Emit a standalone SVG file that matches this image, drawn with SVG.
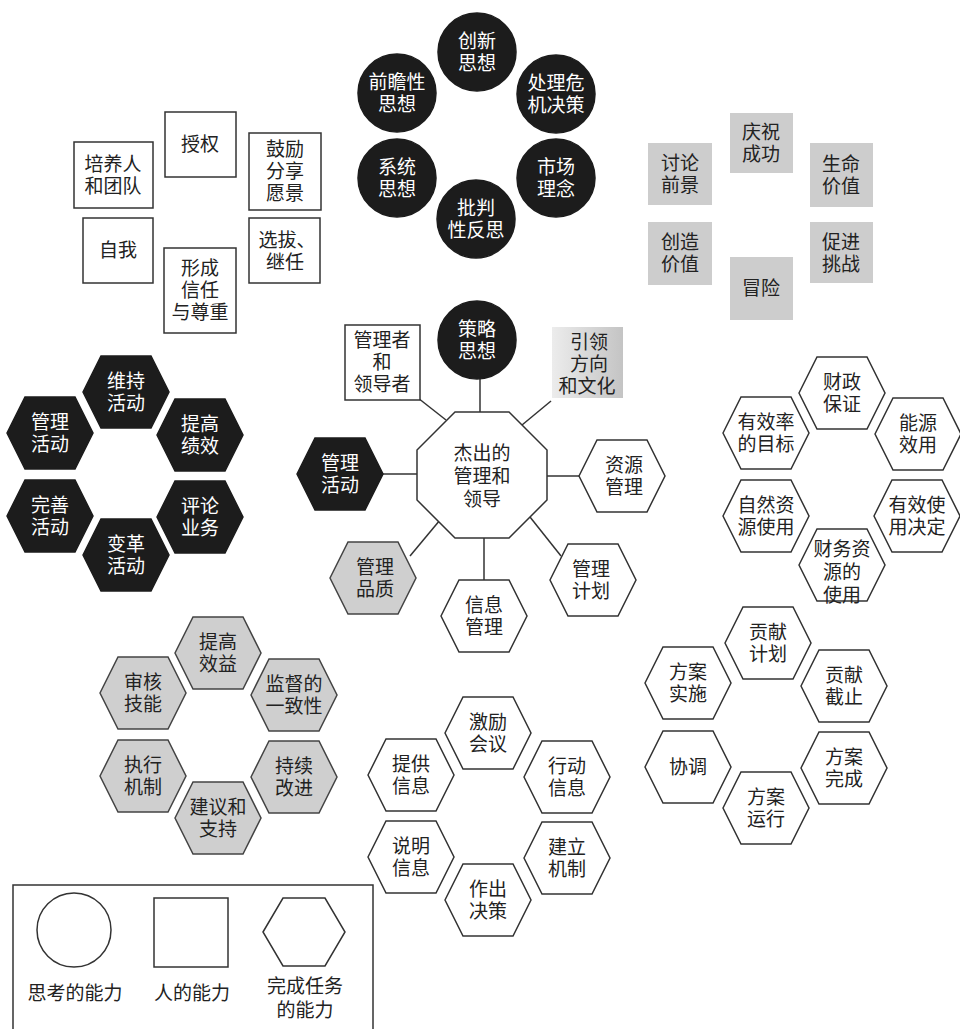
<svg xmlns="http://www.w3.org/2000/svg" xmlns:xlink="http://www.w3.org/1999/xlink" width="960" height="1029" viewBox="0 0 960 1029">
<style>
text{font-family:"Liberation Serif","Noto Sans CJK SC",serif;font-size:19px;text-anchor:middle;dominant-baseline:central;fill:#222}
.lt{fill:#fff}
.dark{fill:#1c1c1c;stroke:#1c1c1c;stroke-width:1.5}
.wh{fill:#fff;stroke:#333;stroke-width:1.5}
.gr{fill:#cfcfcf;stroke:#444;stroke-width:1.5}
.gb{fill:#cdcdcd;stroke:none}
.ln{stroke:#333;stroke-width:1.5;fill:none}
</style>
<defs>
<polygon id="hex" points="-43,0 -25,-36 25,-36 43,0 25,36 -25,36"/>
<linearGradient id="gg" x1="0" y1="0" x2="1" y2="0"><stop offset="0" stop-color="#ececec"/><stop offset="1" stop-color="#c4c4c4"/></linearGradient>
</defs>
<rect width="960" height="1029" fill="#fff"/>

<!-- connectors -->
<g id="connectors">
<line class="ln" x1="480" y1="378" x2="480" y2="412"/>
<line class="ln" x1="418" y1="398" x2="446" y2="420"/>
<line class="ln" x1="551" y1="401" x2="522" y2="425"/>
<line class="ln" x1="383" y1="474" x2="417" y2="474"/>
<line class="ln" x1="547" y1="476" x2="579" y2="476"/>
<line class="ln" x1="440" y1="520" x2="410" y2="556"/>
<line class="ln" x1="484" y1="538" x2="484" y2="580"/>
<line class="ln" x1="530" y1="517" x2="561" y2="556"/>
</g>

<!-- thinking circles -->
<g id="n-chuangxin"><circle class="dark" cx="477" cy="52" r="39"/><text class="lt"><tspan x="477" y="41">创新</tspan><tspan x="477" y="63">思想</tspan></text></g>
<g id="n-qianzhan"><circle class="dark" cx="397" cy="93" r="39"/><text class="lt"><tspan x="397" y="82">前瞻性</tspan><tspan x="397" y="104">思想</tspan></text></g>
<g id="n-weiji"><circle class="dark" cx="556" cy="94" r="39"/><text class="lt"><tspan x="556" y="83">处理危</tspan><tspan x="556" y="105">机决策</tspan></text></g>
<g id="n-xitong"><circle class="dark" cx="397" cy="178" r="39"/><text class="lt"><tspan x="397" y="167">系统</tspan><tspan x="397" y="189">思想</tspan></text></g>
<g id="n-shichang"><circle class="dark" cx="556" cy="178" r="39"/><text class="lt"><tspan x="556" y="167">市场</tspan><tspan x="556" y="189">理念</tspan></text></g>
<g id="n-pipan"><circle class="dark" cx="476" cy="219" r="39"/><text class="lt"><tspan x="476" y="208">批判</tspan><tspan x="476" y="230">性反思</tspan></text></g>

<!-- people squares -->
<g id="n-shouquan"><rect class="wh" x="165" y="112" width="71" height="65"/><text x="200" y="144">授权</text></g>
<g id="n-peiyang"><rect class="wh" x="74" y="142" width="79" height="66"/><text><tspan x="113" y="164">培养人</tspan><tspan x="113" y="186">和团队</tspan></text></g>
<g id="n-guli"><rect class="wh" x="249" y="133" width="72" height="77"/><text><tspan x="285" y="149">鼓励</tspan><tspan x="285" y="171">分享</tspan><tspan x="285" y="193">愿景</tspan></text></g>
<g id="n-ziwo"><rect class="wh" x="83" y="218" width="70" height="65"/><text x="118" y="250">自我</text></g>
<g id="n-xuanba"><rect class="wh" x="249" y="218" width="71" height="65"/><text><tspan x="287" y="240">选拔、</tspan><tspan x="285" y="262">继任</tspan></text></g>
<g id="n-xinren"><rect class="wh" x="164" y="248" width="72" height="85"/><text><tspan x="200" y="268">形成</tspan><tspan x="200" y="290">信任</tspan><tspan x="200" y="312">与尊重</tspan></text></g>

<!-- gray squares -->
<g id="n-qingzhu"><rect class="gb" x="730" y="113" width="63" height="60"/><text><tspan x="761" y="132">庆祝</tspan><tspan x="761" y="154">成功</tspan></text></g>
<g id="n-taolun"><rect class="gb" x="648" y="143" width="64" height="62"/><text><tspan x="680" y="163">讨论</tspan><tspan x="680" y="185">前景</tspan></text></g>
<g id="n-shengming"><rect class="gb" x="810" y="143" width="63" height="64"/><text><tspan x="841" y="164">生命</tspan><tspan x="841" y="186">价值</tspan></text></g>
<g id="n-chuangzao"><rect class="gb" x="648" y="222" width="64" height="63"/><text><tspan x="680" y="242">创造</tspan><tspan x="680" y="264">价值</tspan></text></g>
<g id="n-cujin"><rect class="gb" x="810" y="222" width="63" height="61"/><text><tspan x="841" y="242">促进</tspan><tspan x="841" y="264">挑战</tspan></text></g>
<g id="n-maoxian"><rect class="gb" x="730" y="257" width="63" height="63"/><text x="761" y="288">冒险</text></g>

<!-- dark hexes -->
<g id="n-weichi"><use xlink:href="#hex" href="#hex" class="dark" x="126" y="392"/><text class="lt"><tspan x="126" y="381">维持</tspan><tspan x="126" y="403">活动</tspan></text></g>
<g id="n-guanli1"><use xlink:href="#hex" href="#hex" class="dark" x="50" y="433"/><text class="lt"><tspan x="50" y="422">管理</tspan><tspan x="50" y="444">活动</tspan></text></g>
<g id="n-tigao"><use xlink:href="#hex" href="#hex" class="dark" x="200" y="435"/><text class="lt"><tspan x="200" y="424">提高</tspan><tspan x="200" y="446">绩效</tspan></text></g>
<g id="n-wanshan"><use xlink:href="#hex" href="#hex" class="dark" x="50" y="516"/><text class="lt"><tspan x="50" y="505">完善</tspan><tspan x="50" y="527">活动</tspan></text></g>
<g id="n-pinglun"><use xlink:href="#hex" href="#hex" class="dark" x="200" y="517"/><text class="lt"><tspan x="200" y="506">评论</tspan><tspan x="200" y="528">业务</tspan></text></g>
<g id="n-biange"><use xlink:href="#hex" href="#hex" class="dark" x="126" y="555"/><text class="lt"><tspan x="126" y="544">变革</tspan><tspan x="126" y="566">活动</tspan></text></g>

<!-- center cluster -->
<g id="n-center"><polygon class="wh" points="455,412 509,412 547,450 547,500 509,538 455,538 417,500 417,450"/><text><tspan x="482" y="453">杰出的</tspan><tspan x="482" y="476">管理和</tspan><tspan x="482" y="499">领导</tspan></text></g>
<g id="n-celue"><circle class="dark" cx="477" cy="340" r="39"/><text class="lt"><tspan x="477" y="329">策略</tspan><tspan x="477" y="351">思想</tspan></text></g>
<g id="n-guanlizhe"><rect class="wh" x="345" y="325" width="75" height="75"/><text><tspan x="382" y="340">管理者</tspan><tspan x="382" y="362">和</tspan><tspan x="382" y="384">领导者</tspan></text></g>
<g id="n-yinling"><rect x="552" y="327" width="71" height="71" fill="url(#gg)"/><text><tspan x="589" y="342">引领</tspan><tspan x="589" y="364">方向</tspan><tspan x="587" y="386">和文化</tspan></text></g>
<g id="n-guanli2"><use xlink:href="#hex" href="#hex" class="dark" x="340" y="474"/><text class="lt"><tspan x="340" y="463">管理</tspan><tspan x="340" y="485">活动</tspan></text></g>
<g id="n-ziyuan"><use xlink:href="#hex" href="#hex" class="wh" x="622" y="476"/><text><tspan x="624" y="465">资源</tspan><tspan x="624" y="487">管理</tspan></text></g>
<g id="n-pinzhi"><use xlink:href="#hex" href="#hex" class="gr" x="373" y="578"/><text><tspan x="375" y="567">管理</tspan><tspan x="375" y="589">品质</tspan></text></g>
<g id="n-xinxi"><use xlink:href="#hex" href="#hex" class="wh" x="484" y="616"/><text><tspan x="484" y="605">信息</tspan><tspan x="484" y="627">管理</tspan></text></g>
<g id="n-jihua"><use xlink:href="#hex" href="#hex" class="wh" x="593" y="580"/><text><tspan x="591" y="569">管理</tspan><tspan x="591" y="591">计划</tspan></text></g>

<!-- right hex cluster -->
<g id="n-caizheng"><use xlink:href="#hex" href="#hex" class="wh" x="842" y="393"/><text><tspan x="842" y="382">财政</tspan><tspan x="842" y="404">保证</tspan></text></g>
<g id="n-xiaolv"><use xlink:href="#hex" href="#hex" class="wh" x="766" y="433"/><text><tspan x="766" y="422">有效率</tspan><tspan x="766" y="444">的目标</tspan></text></g>
<g id="n-nengyuan"><use xlink:href="#hex" href="#hex" class="wh" x="918" y="434"/><text><tspan x="918" y="423">能源</tspan><tspan x="918" y="445">效用</tspan></text></g>
<g id="n-ziran"><use xlink:href="#hex" href="#hex" class="wh" x="766" y="516"/><text><tspan x="766" y="505">自然资</tspan><tspan x="766" y="527">源使用</tspan></text></g>
<g id="n-juedin"><use xlink:href="#hex" href="#hex" class="wh" x="917" y="516"/><text><tspan x="917" y="505">有效使</tspan><tspan x="917" y="527">用决定</tspan></text></g>
<g id="n-caiwu"><use xlink:href="#hex" href="#hex" class="wh" x="842" y="565"/><text><tspan x="842" y="549">财务资</tspan><tspan x="842" y="572">源的</tspan><tspan x="842" y="595">使用</tspan></text></g>

<!-- gray hex cluster -->
<g id="n-xiaoyi"><use xlink:href="#hex" href="#hex" class="gr" x="218" y="653"/><text><tspan x="218" y="642">提高</tspan><tspan x="218" y="664">效益</tspan></text></g>
<g id="n-shenhe"><use xlink:href="#hex" href="#hex" class="gr" x="143" y="693"/><text><tspan x="143" y="682">审核</tspan><tspan x="143" y="704">技能</tspan></text></g>
<g id="n-jiandu"><use xlink:href="#hex" href="#hex" class="gr" x="294" y="695"/><text><tspan x="294" y="684">监督的</tspan><tspan x="294" y="706">一致性</tspan></text></g>
<g id="n-zhixing"><use xlink:href="#hex" href="#hex" class="gr" x="143" y="776"/><text><tspan x="143" y="765">执行</tspan><tspan x="143" y="787">机制</tspan></text></g>
<g id="n-chixu"><use xlink:href="#hex" href="#hex" class="gr" x="294" y="777"/><text><tspan x="294" y="766">持续</tspan><tspan x="294" y="788">改进</tspan></text></g>
<g id="n-jianyi"><use xlink:href="#hex" href="#hex" class="gr" x="218" y="818"/><text><tspan x="218" y="807">建议和</tspan><tspan x="218" y="829">支持</tspan></text></g>

<!-- info hex cluster -->
<g id="n-jili"><use xlink:href="#hex" href="#hex" class="wh" x="488" y="733"/><text><tspan x="488" y="722">激励</tspan><tspan x="488" y="744">会议</tspan></text></g>
<g id="n-tigong"><use xlink:href="#hex" href="#hex" class="wh" x="411" y="775"/><text><tspan x="411" y="764">提供</tspan><tspan x="411" y="786">信息</tspan></text></g>
<g id="n-xingdong"><use xlink:href="#hex" href="#hex" class="wh" x="567" y="777"/><text><tspan x="567" y="766">行动</tspan><tspan x="567" y="788">信息</tspan></text></g>
<g id="n-shuoming"><use xlink:href="#hex" href="#hex" class="wh" x="411" y="857"/><text><tspan x="411" y="846">说明</tspan><tspan x="411" y="868">信息</tspan></text></g>
<g id="n-jianli"><use xlink:href="#hex" href="#hex" class="wh" x="567" y="858"/><text><tspan x="567" y="847">建立</tspan><tspan x="567" y="869">机制</tspan></text></g>
<g id="n-zuochu"><use xlink:href="#hex" href="#hex" class="wh" x="488" y="900"/><text><tspan x="488" y="889">作出</tspan><tspan x="488" y="911">决策</tspan></text></g>

<!-- plan hex cluster -->
<g id="n-gongxianjh"><use xlink:href="#hex" href="#hex" class="wh" x="768" y="643"/><text><tspan x="768" y="632">贡献</tspan><tspan x="768" y="654">计划</tspan></text></g>
<g id="n-shishi"><use xlink:href="#hex" href="#hex" class="wh" x="688" y="683"/><text><tspan x="688" y="672">方案</tspan><tspan x="688" y="694">实施</tspan></text></g>
<g id="n-jiezhi"><use xlink:href="#hex" href="#hex" class="wh" x="844" y="686"/><text><tspan x="844" y="675">贡献</tspan><tspan x="844" y="697">截止</tspan></text></g>
<g id="n-xietiao"><use xlink:href="#hex" href="#hex" class="wh" x="688" y="767"/><text x="688" y="767">协调</text></g>
<g id="n-wancheng"><use xlink:href="#hex" href="#hex" class="wh" x="844" y="768"/><text><tspan x="844" y="757">方案</tspan><tspan x="844" y="779">完成</tspan></text></g>
<g id="n-yunxing"><use xlink:href="#hex" href="#hex" class="wh" x="766" y="808"/><text><tspan x="766" y="797">方案</tspan><tspan x="766" y="819">运行</tspan></text></g>

<!-- legend -->
<g id="legend">
<rect class="wh" x="13" y="885" width="360" height="160"/>
<circle class="wh" cx="74" cy="930" r="37"/>
<rect class="wh" x="154" y="898" width="74" height="69"/>
<polygon class="wh" points="263,932 283,898 325,898 345,932 325,966 283,966"/>
<text x="75" y="993">思考的能力</text>
<text x="192" y="993">人的能力</text>
<text><tspan x="305" y="986">完成任务</tspan><tspan x="305" y="1010">的能力</tspan></text>
</g>
</svg>
